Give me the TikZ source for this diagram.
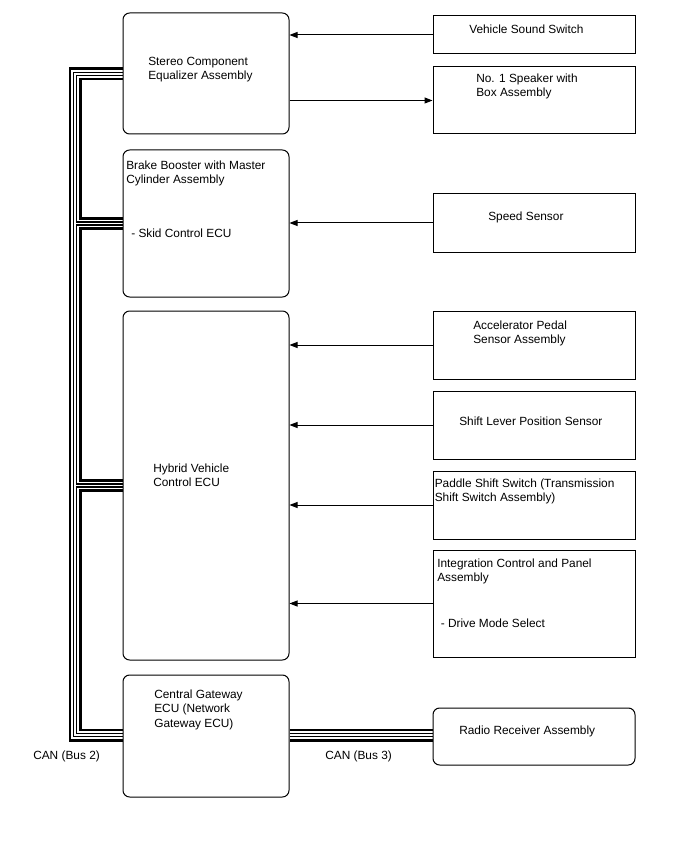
\documentclass[tikz,border=0pt]{standalone}
\usepackage{fontspec}
\setmainfont{Liberation Sans}
\usetikzlibrary{arrows.meta,backgrounds}
\newcommand\lbfont{\fontsize{8.9pt}{10.7pt}\selectfont}
\tikzset{
  ecu/.style={draw, line width=0.75pt, rounded corners=5pt, inner sep=0pt, minimum width=124.5pt},
  part/.style={draw, line width=0.75pt, inner sep=0pt, minimum width=151.5pt},
  sig/.style={line width=0.75pt, -{Triangle[length=6pt,width=4.5pt]}},
  lbl/.style={anchor=north west, inner sep=0pt, align=left, font=\lbfont},
}
\begin{document}
\begin{tikzpicture}[x=0.75pt, y=-0.75pt]
  \useasboundingbox (0,0) rectangle (688,852);
  \node[ecu, minimum height=90.75pt] (stereo) at (206,73.5) {};
  \node[ecu, minimum height=110.25pt] (brake) at (206,223.5) {};
  \node[ecu, minimum height=261.75pt] (hybrid) at (206,485.5) {};
  \node[ecu, minimum height=91.5pt] (gateway) at (206,736) {};
  \node[part, minimum height=28.5pt] (vss) at (534,35) {};
  \node[part, minimum height=50.25pt] (spk) at (534,100.5) {};
  \node[part, minimum height=43.5pt] (speed) at (534,223) {};
  \node[part, minimum height=51pt] (accel) at (534,345) {};
  \node[part, minimum height=51pt] (shift) at (534,425) {};
  \node[part, minimum height=51pt] (paddle) at (534,505) {};
  \node[part, minimum height=80.25pt] (integ) at (534,603.5) {};
  \node[ecu, minimum width=151.5pt, minimum height=42.75pt] (radio) at (534,736.5) {};

  \node[lbl] (stereo-t) at (148,56.6) {Stereo Component\\Equalizer Assembly};
  \node[lbl] (brake-t) at (126,160.6) {Brake Booster with Master\\Cylinder Assembly};
  \node[lbl] (skid-t) at (131,228.6) {- Skid Control ECU};
  \node[lbl] (hybrid-t) at (153,463.6) {Hybrid Vehicle\\Control ECU};
  \node[lbl] (gateway-t) at (154,689.6) {Central Gateway\\ECU (Network\\Gateway ECU)};
  \node[lbl] (vss-t) at (469,24.6) {Vehicle Sound Switch};
  \node[lbl] (spk-t) at (476,73.6) {No. 1 Speaker with\\Box Assembly};
  \node[lbl] (speed-t) at (488,211.6) {Speed Sensor};
  \node[lbl] (accel-t) at (473,320.7) {Accelerator Pedal\\Sensor Assembly};
  \node[lbl] (shift-t) at (459,416.7) {Shift Lever Position Sensor};
  \node[lbl] (paddle-t) at (434.5,478.5) {Paddle Shift Switch (Transmission\\Shift Switch Assembly)};
  \node[lbl] (integ-t) at (437,558.3) {Integration Control and Panel\\Assembly};
  \node[lbl] (drive-t) at (440.5,618.3) {- Drive Mode Select};
  \node[lbl] (radio-t) at (459,725.6) {Radio Receiver Assembly};
  \node[lbl] (can2) at (33,750.6) {CAN (Bus 2)};
  \node[lbl] (can3) at (325,750.6) {CAN (Bus 3)};

  \draw[sig] (vss.west) -- (vss.west -| stereo.east);
  \draw[sig] (stereo.east |- spk.west) -- (spk.west);
  \draw[sig] (speed.west) -- (speed.west -| brake.east);
  \draw[sig] (accel.west) -- (accel.west -| hybrid.east);
  \draw[sig] (shift.west) -- (shift.west -| hybrid.east);
  \draw[sig] (paddle.west) -- (paddle.west -| hybrid.east);
  \draw[sig] (integ.west) -- (integ.west -| hybrid.east);

  \coordinate (bustop) at (75,74);
  \coordinate (busbot) at (75,735);
  \begin{scope}[on background layer]
    \foreach \w/\c in {9.75pt/black, 5.6pt/white, 3.2pt/black, 1.2pt/white}
      \draw[line width=\w, \c] (stereo.west |- bustop) -- (bustop) -- (busbot) -- (gateway.west |- busbot)
        (bustop |- brake.west) -- (brake.west)
        (bustop |- hybrid.west) -- (hybrid.west)
        (gateway.east |- busbot) -- (radio.west |- busbot);
  \end{scope}
\end{tikzpicture}
\end{document}
